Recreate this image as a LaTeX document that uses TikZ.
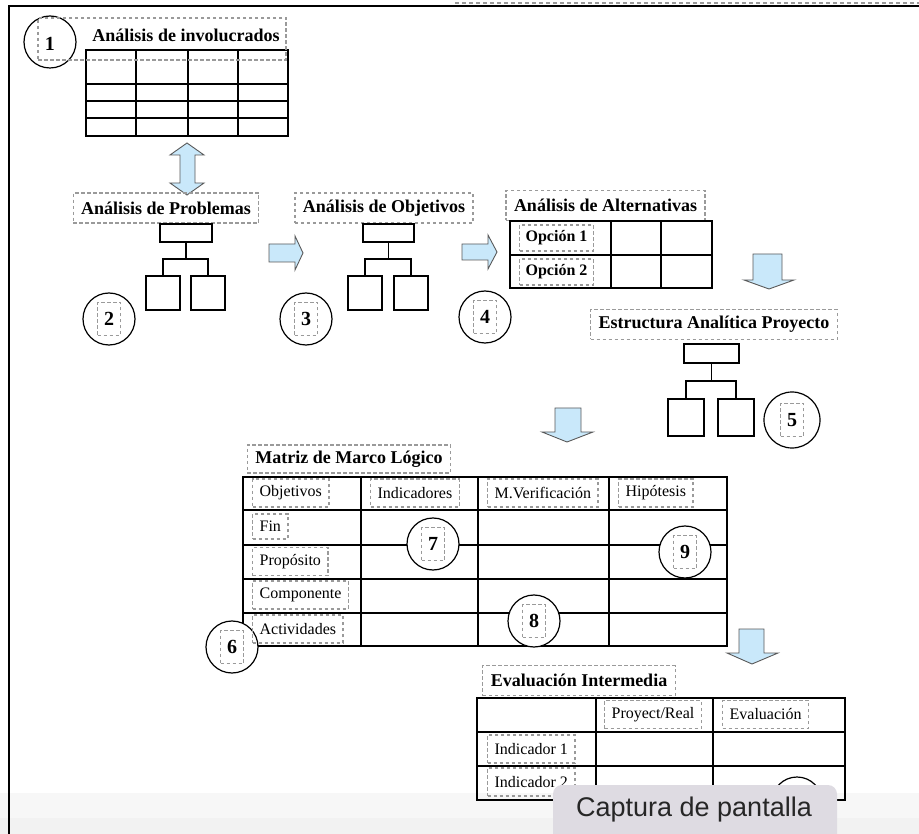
\documentclass[tikz,border=0pt]{standalone}
\usepackage{fontspec}
\setmainfont{Liberation Serif}
\newfontfamily\uisans{Liberation Sans}
\usetikzlibrary{calc}
\definecolor{arrowblue}{HTML}{C9E8FA}
\definecolor{dashgray}{HTML}{9A9A9A}
\definecolor{tipfill}{HTML}{DEDBE2}
\tikzset{
 dbox/.style={draw=dashgray, dash pattern=on 3.5pt off 2.5pt, line width=1.3pt, inner sep=0pt},
 ttl/.style={dbox, font=\bfseries\fontsize{18}{20}\selectfont, minimum height=30, inner xsep=8pt},
 lbl/.style={dbox, font=\fontsize{16}{18}\selectfont, minimum height=28, inner xsep=7pt, anchor=west},
 optl/.style={dbox, font=\bfseries\fontsize{16}{18}\selectfont, minimum height=26, inner xsep=6pt},
 numc/.style={circle, draw, fill=white, line width=1.2pt, minimum size=52, inner sep=0pt},
 numb/.style={dbox, font=\bfseries\fontsize{20}{22}\selectfont, minimum width=23, minimum height=33},
 gridl/.style={line width=1.9pt, line cap=rect},
 blk/.style={draw, line width=1.9pt, inner sep=0pt},
 tree/.style={line width=1.9pt},
 barrow/.style={fill=arrowblue, draw=gray!70!black, line width=0.9pt, line join=miter},
}
\begin{document}
\begin{tikzpicture}[x=1pt,y=-1pt]
\useasboundingbox (0,0) rectangle (919,834);
% screenshot bottom bar
\fill[black!3] (0,793) rectangle (919,818);
\fill[black!5] (0,818) rectangle (919,834);
% frame
\draw[line width=2pt] (9,834) -- (9,6.5) -- (919,6.5);
\draw[dashgray, dash pattern=on 4pt off 3pt, line width=1.5pt] (455,3) -- (919,3);

% 1: Analisis de involucrados
\foreach \x in {86,136,188,238,288} \draw[gridl] (\x,50) -- (\x,136);
\foreach \y in {50,84,101,118,136} \draw[gridl] (86,\y) -- (288,\y);
\node[numc] (c1) at (50,42) {};
\node[font=\bfseries\fontsize{20}{22}\selectfont] (n1) at (50,44) {1};
\node[font=\bfseries\fontsize{18}{20}\selectfont] (t1) at (186,35) {Análisis de involucrados};
\node[dbox, minimum width=248, minimum height=42] (g1) at (162,39) {};

% block arrows
\draw[barrow] (187,143) -- (204,155) -- (195,155) -- (195,183) -- (204,183) -- (187,195) -- (170,183) -- (180,183) -- (180,155) -- (170,155) -- cycle;
\draw[barrow] (269,244) -- (295,244) -- (295,236) -- (303,253) -- (295,270) -- (295,262) -- (269,262) -- cycle;
\draw[barrow] (462,244) -- (488,244) -- (488,235) -- (497,252) -- (488,269) -- (488,260) -- (462,260) -- cycle;
\draw[barrow] (753,254) -- (782,254) -- (782,280) -- (794,280) -- (769,289) -- (744,280) -- (753,280) -- cycle;
\draw[barrow] (555,408) -- (581,408) -- (581,432) -- (593,432) -- (567,442) -- (542,432) -- (555,432) -- cycle;
\draw[barrow] (739,629) -- (764,629) -- (764,653) -- (778,653) -- (752,664) -- (727,653) -- (739,653) -- cycle;

% titles
\node[ttl] (p2) at (166,208) {Análisis de Problemas};
\node[ttl] (p3) at (384,208) {Análisis de Objetivos};
\node[ttl] (p4) at (605.5,205.5) {Análisis de Alternativas};
\node[ttl] (p5) at (714,324.5) {Estructura Analítica Proyecto};
\node[ttl, minimum height=28] (p6) at (349,459) {Matriz de Marco Lógico};
\node[ttl] (p10) at (579,680.5) {Evaluación Intermedia};

% tree 2
\node[blk, minimum width=52, minimum height=18] (r2) at (186,233) {};
\node[blk, minimum size=34] (r2a) at (163,293) {};
\node[blk, minimum size=34] (r2b) at (208,293) {};
\draw[tree] (r2.south) -- ++(0,16) coordinate (j2);
\draw[tree] (r2a.north) |- (j2) -| (r2b.north);
% tree 3
\node[blk, minimum width=51, minimum height=18] (r3) at (388.5,233) {};
\node[blk, minimum size=34] (r3a) at (365,293) {};
\node[blk, minimum size=34] (r3b) at (411,293) {};
\draw[tree] (r3.south) -- ++(0,16) coordinate (j3);
\draw[tree] (r3a.north) |- (j3) -| (r3b.north);
% tree 5
\node[blk, minimum width=55, minimum height=19] (r5) at (711.5,353.5) {};
\node[blk, minimum width=36, minimum height=37] (r5a) at (686,417.5) {};
\node[blk, minimum width=36, minimum height=37] (r5b) at (736,417.5) {};
\draw[tree] (r5.south) -- ++(0,17) coordinate (j5);
\draw[tree] (r5a.north) |- (j5) -| (r5b.north);

% alternatives table
\foreach \x in {510,611,661,712} \draw[gridl] (\x,221) -- (\x,288);
\foreach \y in {221,255,288} \draw[gridl] (510,\y) -- (712,\y);
\node[optl] (o1) at (556.5,238) {Opción 1};
\node[optl] (o2) at (556.5,272) {Opción 2};

% logical framework matrix
\foreach \x in {243,361,478,609,727} \draw[gridl] (\x,477) -- (\x,646);
\foreach \y in {477,510,545,579,613,646} \draw[gridl] (243,\y) -- (727,\y);

% evaluation table
\foreach \x in {477,596,713,845} \draw[gridl] (\x,698) -- (\x,800);
\foreach \y in {698,732,766,800} \draw[gridl] (477,\y) -- (845,\y);

% numbered circles
\foreach \n/\p/\s in {2/{(109,319)}/52, 3/{(306,319)}/52, 4/{(485,317)}/52, 5/{(792,420)}/56, 6/{(232,647)}/52, 7/{(433,544)}/52, 8/{(534,621)}/52, 9/{(685,552)}/52}{
  \node[numc, minimum size=\s] (c\n) at \p {};
  \node[numb] (n\n) at \p {\n};
}
\node[numc, minimum size=50] (c10) at (797,802) {};

% matrix labels
\node[lbl] (m1) at (252,493) {Objetivos};
\node[lbl] (m2) at (370,493) {Indicadores};
\node[lbl] (m3) at (487,493) {M.Verificación};
\node[lbl] (m4) at (618,493) {Hipótesis};
\node[lbl, minimum height=25] (m5) at (252,526.5) {Fin};
\node[lbl] (m6) at (252,561.5) {Propósito};
\node[lbl] (m7) at (252,595) {Componente};
\node[lbl] (m8) at (252,629) {Actividades};

% evaluation labels
\node[lbl] (e1) at (604,714.5) {Proyect/Real};
\node[lbl] (e2) at (722,714.5) {Evaluación};
\node[lbl] (e3) at (487,749) {Indicador 1};
\node[lbl] (e4) at (487,782) {Indicador 2};

% screenshot tooltip
\begin{scope}
\clip (0,0) rectangle (919,834);
\fill[tipfill, rounded corners=9pt] (553,785) rectangle (837,850);
\end{scope}
\node[font=\uisans\fontsize{27}{30}\selectfont, text=black!85] (cap) at (694,810) {Captura de pantalla};
\end{tikzpicture}
\end{document}
